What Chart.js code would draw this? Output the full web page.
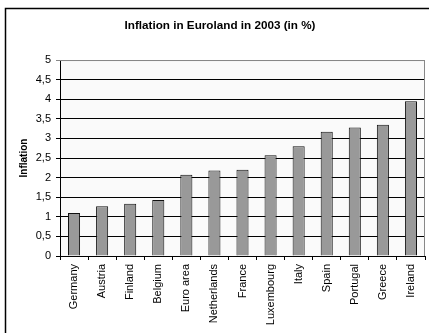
<!DOCTYPE html>
<html>
<head>
<meta charset="utf-8">
<script src="https://cdn.jsdelivr.net/npm/chart.js@4/dist/chart.umd.min.js"></script>
<style>
  html, body { margin: 0; padding: 0; background: #fff; }
  #wrap { width: 429px; height: 333px; }
</style>
</head>
<body>
<div id="wrap"><canvas id="inflation-chart" width="429" height="333"></canvas></div>
<script>
const countries = ['Germany', 'Austria', 'Finland', 'Belgium', 'Euro area', 'Netherlands', 'France',
    'Luxembourg', 'Italy', 'Spain', 'Portugal', 'Greece', 'Ireland'];
const inflation = [1.1, 1.27, 1.33, 1.43, 2.07, 2.18, 2.2, 2.57, 2.8, 3.17, 3.28, 3.35, 3.95];
const yTicks = [0, 0.5, 1, 1.5, 2, 2.5, 3, 3.5, 4, 4.5, 5];

// white page, outer frame and the pale plot background
const framePlugin = {
    id: 'frame',
    beforeDraw(chart) {
        const c = chart.ctx, a = chart.chartArea;
        c.save();
        c.fillStyle = '#fff';
        c.fillRect(0, 0, chart.width, chart.height);
        c.strokeStyle = '#000';
        c.lineWidth = 1.5;
        c.strokeRect(5.5, 8.5, 600, 600);
        c.fillStyle = '#fafafa';
        c.fillRect(a.left, a.top, a.right - a.left, a.bottom - a.top);
        c.restore();
    },
    afterDatasetsDraw(chart) {
        const c = chart.ctx, a = chart.chartArea;
        c.save();
        c.strokeStyle = '#888';
        c.lineWidth = 1;
        c.beginPath();
        c.moveTo(a.left, a.top + 0.5);
        c.lineTo(a.right - 0.5, a.top + 0.5);
        c.lineTo(a.right - 0.5, a.bottom);
        c.stroke();
        c.restore();
    }
};

const ctx = document.getElementById('inflation-chart').getContext('2d');
new Chart(ctx, {
    type: 'bar',
    data: {
        labels: countries,
        datasets: [{
            label: 'Inflation',
            data: inflation,
            backgroundColor: '#999999',
            borderColor: '#111',
            borderWidth: 1,
            barPercentage: 0.43,
            categoryPercentage: 1
        }]
    },
    options: {
        responsive: false,
        animation: false,
        // left padding keeps the title centred on the framed area
        layout: { padding: { left: 15, right: 4, top: 0, bottom: 0 } },
        plugins: {
            legend: { display: false },
            tooltip: { enabled: false },
            title: {
                display: true,
                text: 'Inflation in Euroland in 2003 (in %)',
                color: '#000',
                font: { family: 'Arial, "Liberation Sans"', size: 11.7, weight: 'bold', lineHeight: 1.2 },
                padding: { top: 18.5, bottom: 27.5 }
            }
        },
        scales: {
            x: {
                afterFit: s => { s.height = 77; },
                border: { color: '#000', width: 1 },
                grid: { offset: true, drawOnChartArea: false, drawTicks: true, tickLength: 4, color: '#000' },
                ticks: {
                    autoSkip: false, maxRotation: 90, minRotation: 90, padding: 4,
                    color: '#000', font: { family: 'Arial, "Liberation Sans"', size: 11 }
                }
            },
            y: {
                min: 0,
                max: 5,
                afterFit: s => { s.width = 45; },
                afterBuildTicks: s => { s.ticks = yTicks.map(v => ({ value: v })); },
                border: { color: '#000', width: 1 },
                grid: {
                    color: c => (c.tick && c.tick.value === 5 ? '#888' : '#000'),
                    tickLength: 4
                },
                ticks: {
                    padding: 5,
                    color: '#000',
                    font: { family: 'Arial, "Liberation Sans"', size: 11 },
                    callback: v => String(v).replace('.', ',')
                },
                title: {
                    display: true,
                    text: 'Inflation',
                    color: '#000',
                    font: { family: 'Arial, "Liberation Sans"', size: 10, weight: 'bold', lineHeight: 1.2 },
                    padding: { top: 3, bottom: 0 }
                }
            }
        }
    },
    plugins: [framePlugin]
});
</script>
</body>
</html>
